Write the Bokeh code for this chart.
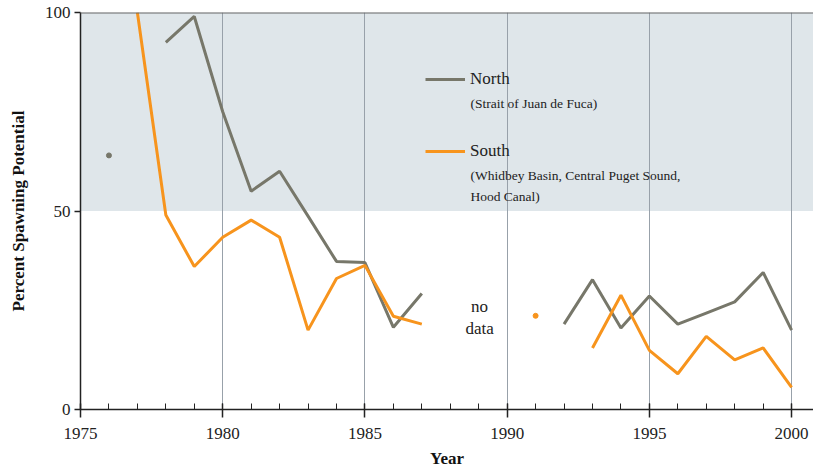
import numpy as np
from bokeh.plotting import figure
from bokeh.models import (Range1d, BoxAnnotation, Span, Label, Legend, LegendItem,
                          FixedTicker, ColumnDataSource)
from bokeh.embed import file_html
from bokeh.resources import INLINE

# ---- data ----
years = list(range(1976, 2001))
north = [64, None, 92.5, 99, 75, 55, 60, 48.7, 37.3, 37, 20.7, 29.2,
         None, None, None, None,
         21.5, 32.7, 20.5, 28.6, 21.5, 24.3, 27.1, 34.5, 20]
south = [None, 100, 49, 36, 43.4, 47.7, 43.4, 20, 33, 36.3, 23.5, 21.5,
         None, None, None, 23.6, None,
         15.5, 28.8, 14.9, 9, 18.4, 12.5, 15.5, 5.6]
x_ticks = [1975, 1980, 1985, 1990, 1995, 2000]
y_ticks = [0, 50, 100]
band = (50, 100)

FONT = "Liberation Serif"
NORTH_C = "#77776a"
SOUTH_C = "#f7941d"

def to_arr(v):
    return np.array([np.nan if a is None else a for a in v], dtype=float)

def isolated(v):
    xs, ys = [], []
    for i, a in enumerate(v):
        if a is None:
            continue
        prev_none = i == 0 or v[i - 1] is None
        next_none = i == len(v) - 1 or v[i + 1] is None
        if prev_none and next_none:
            xs.append(years[i]); ys.append(a)
    return xs, ys

p = figure(width=813, height=470, output_backend="svg", toolbar_location=None,
           x_range=Range1d(1975, 2000.77), y_range=Range1d(0, 100),
           min_border_left=80, min_border_right=0, min_border_top=12,
           min_border_bottom=61)
p.outline_line_color = None
p.background_fill_color = "white"

p.add_layout(BoxAnnotation(bottom=band[0], top=band[1], fill_color="#dfe6ea",
                           fill_alpha=1, line_color=None, level="image"))

# grid
p.ygrid.grid_line_color = None
p.xgrid.ticker = FixedTicker(ticks=x_ticks[1:])
p.xgrid.grid_line_color = "#98a1aa"
p.xgrid.grid_line_width = 1

src = ColumnDataSource(dict(x=years, n=to_arr(north), s=to_arr(south)))
nr = p.line("x", "n", source=src, line_color=NORTH_C, line_width=3)
sr = p.line("x", "s", source=src, line_color=SOUTH_C, line_width=3)
nx, ny = isolated(north)
sx, sy = isolated(south)
p.scatter(nx, ny, size=5, color=NORTH_C)
p.scatter(sx, sy, size=5, color=SOUTH_C)

# top border
p.add_layout(Span(location=100, dimension="width", line_color="#666666", line_width=2))

# axes
xa = p.xaxis[0]
xa.ticker = FixedTicker(ticks=x_ticks, minor_ticks=list(range(1975, 2001)))
xa.axis_label = "Year"
xa.major_tick_in = 6
xa.major_tick_out = 8
xa.minor_tick_in = 6
xa.minor_tick_out = 0
xa.major_label_standoff = 10

ya = p.yaxis[0]
ya.ticker = FixedTicker(ticks=y_ticks)
ya.axis_label = "Percent Spawning Potential"
ya.major_tick_in = 0
ya.major_tick_out = 6
ya.minor_tick_in = 0
ya.minor_tick_out = 0
ya.major_label_standoff = 4

for ax in (xa, ya):
    ax.axis_line_color = "#222222"
    ax.axis_line_width = 1.5
    ax.major_tick_line_color = "#222222"
    ax.minor_tick_line_color = "#222222"
    ax.major_tick_line_width = 1.5
    ax.major_label_text_font = FONT
    ax.major_label_text_font_size = "17px"
    ax.major_label_text_color = "#222222"
    ax.axis_label_text_font = FONT
    ax.axis_label_text_font_size = "17px"
    ax.axis_label_text_font_style = "bold"
    ax.axis_label_text_color = "#111111"
xa.axis_label_standoff = 7
ya.axis_label_standoff = 14

# legend
leg = Legend(items=[LegendItem(label="North", renderers=[nr]),
                    LegendItem(label="South", renderers=[sr])],
             location=(345, 248), glyph_width=40, glyph_height=20,
             label_height=20, spacing=52, padding=0, margin=0,
             label_standoff=5, border_line_color=None,
             background_fill_alpha=0, label_text_font=FONT,
             label_text_font_size="17px", label_text_color="#222222")
p.add_layout(leg)

sub_kw = dict(text_font=FONT, text_font_size="13.5px", text_color="#222222",
              text_baseline="middle", text_align="left")
p.add_layout(Label(x=1988.71, y=77.1, text="(Strait of Juan de Fuca)", **sub_kw))
p.add_layout(Label(x=1988.71, y=58.9, text="(Whidbey Basin, Central Puget Sound,", **sub_kw))
p.add_layout(Label(x=1988.71, y=53.6, text="Hood Canal)", **sub_kw))

nd_kw = dict(text_font=FONT, text_font_size="17px", text_color="#222222",
             text_baseline="middle", text_align="center")
p.add_layout(Label(x=1989.03, y=25.9, text="no", **nd_kw))
p.add_layout(Label(x=1989.03, y=20.4, text="data", **nd_kw))

open("out.html", "w").write(file_html(p, INLINE))
